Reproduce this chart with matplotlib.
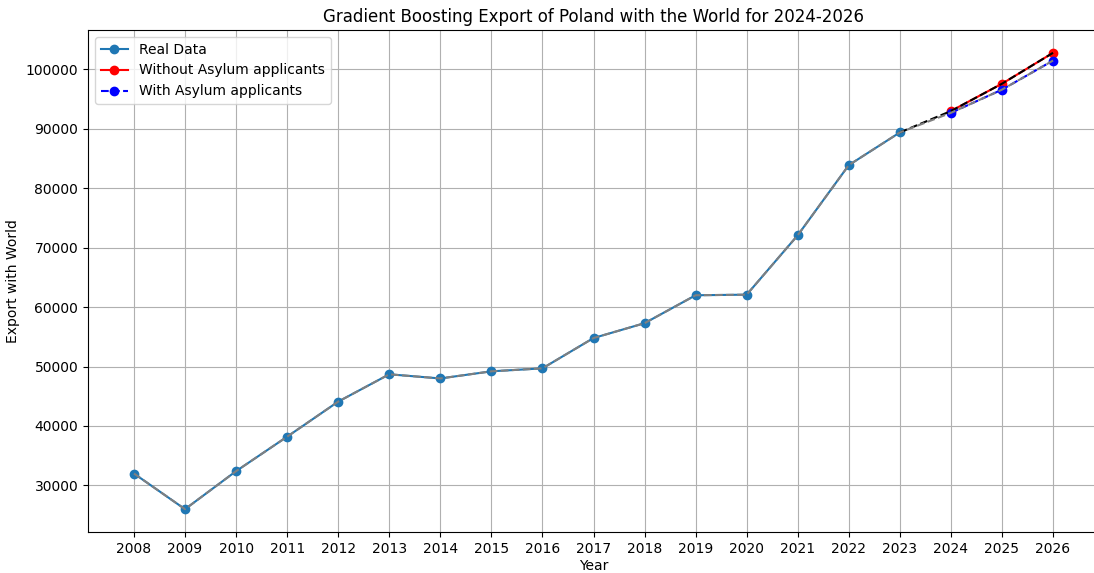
import matplotlib
matplotlib.use("Agg")
import matplotlib.pyplot as plt

years_real = [2008, 2009, 2010, 2011, 2012, 2013, 2014, 2015, 2016, 2017,
              2018, 2019, 2020, 2021, 2022, 2023]
real_values = [32000, 26000, 32400, 38200, 44100, 48700, 48000, 49200, 49700,
               54800, 57300, 62000, 62100, 72100, 83900, 89400]
years_pred = [2024, 2025, 2026]
pred_without = [93000, 97600, 102800]
pred_with = [92700, 96600, 101500]

fig = plt.figure(figsize=(10.94, 5.73), dpi=100)
ax = fig.add_axes([88/1094, 1-532/573, (1099-88)/1094, (532-30)/573])

ax.plot(years_real, real_values, marker='o', color='tab:blue', label='Real Data')
ax.plot(years_pred, pred_without, marker='o', color='red', label='Without Asylum applicants')
ax.plot(years_pred, pred_with, marker='o', color='blue', linestyle='--', label='With Asylum applicants')

# combined lines
ax.plot([years_real[-1]] + years_pred, [real_values[-1]] + pred_without, color='black', linestyle='--')
ax.plot(years_real + years_pred, real_values + pred_with, color='gray', linestyle='--')

ax.set_xticks(years_real + years_pred)
ax.set_title('Gradient Boosting Export of Poland with the World for 2024-2026')
ax.set_xlabel('Year', labelpad=2)
ax.set_ylabel('Export with World')
ax.grid(True)
ax.legend(loc='upper left')

fig.savefig('out.png', dpi=100)
